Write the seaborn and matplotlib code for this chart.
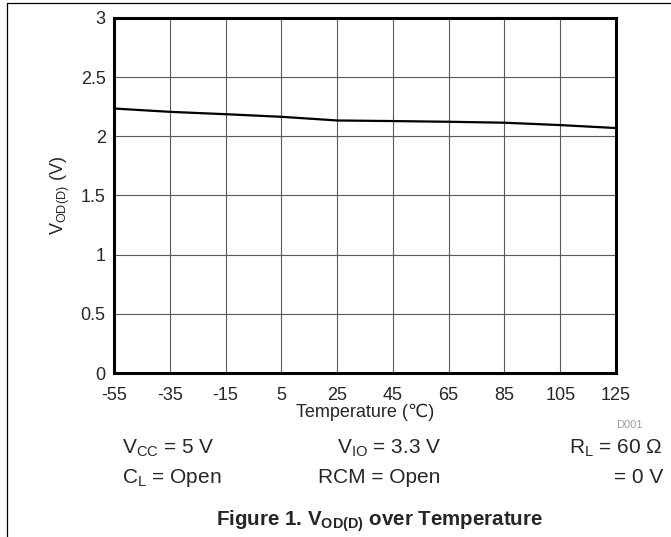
import matplotlib
matplotlib.use("Agg")
import matplotlib.pyplot as plt
from matplotlib.lines import Line2D
import pandas as pd
import seaborn as sns

# Data
temperature = [-55, -35, -15, 5, 25, 45, 65, 85, 105, 125]
vod = [2.235, 2.207, 2.187, 2.165, 2.134, 2.129, 2.123, 2.115, 2.095, 2.07]
x_ticks = [-55, -35, -15, 5, 25, 45, 65, 85, 105, 125]
y_ticks = [0, 0.5, 1, 1.5, 2, 2.5, 3]
y_tick_labels = ["0", "0.5", "1", "1.5", "2", "2.5", "3"]

df = pd.DataFrame({"Temperature": temperature, "VOD": vod})

sns.set_style("white")
plt.rcParams["font.family"] = ["Liberation Sans", "DejaVu Sans"]
plt.rcParams["mathtext.fontset"] = "custom"
plt.rcParams["mathtext.rm"] = "Liberation Sans"
plt.rcParams["mathtext.it"] = "Liberation Sans:italic"
plt.rcParams["mathtext.bf"] = "Liberation Sans:bold"

fig = plt.figure(figsize=(6.71, 5.37), dpi=100)
ax = fig.add_axes([0.1699, 0.3054, 0.918 - 0.1699, 0.9665 - 0.3054])

sns.lineplot(data=df, x="Temperature", y="VOD", ax=ax, color="black", linewidth=1.6)

ax.set_xlim(-55, 125)
ax.set_ylim(0, 3)
ax.set_xticks(x_ticks)
ax.set_xticklabels([str(t) for t in x_ticks])
ax.set_yticks(y_ticks)
ax.set_yticklabels(y_tick_labels)
ax.grid(True, color="#5a5a5a", linewidth=0.8)
ax.set_axisbelow(True)
ax.tick_params(axis="x", length=0, pad=10, labelsize=13)
ax.tick_params(axis="y", length=0, pad=6, labelsize=13)
for s in ax.spines.values():
    s.set_visible(True)
    s.set_color("black")
    s.set_linewidth(2.2)

ax.set_xlabel("Temperature (\u2103)", fontsize=13, labelpad=0)
ax.set_ylabel(r"$\mathregular{V_{OD(D)}}$ (V)", fontsize=13, labelpad=6)

# conditions under the chart
fig.text(0.958, 1 - 428 / 537, "D001", fontsize=8, color="#a0a0a0", ha="right", va="baseline")
fig.text(0.182, 1 - 454 / 537, r"$\mathregular{V_{CC}}$ = 5 V", fontsize=15, ha="left", va="baseline")
fig.text(0.502, 1 - 454 / 537, r"$\mathregular{V_{IO}}$ = 3.3 V", fontsize=15, ha="left", va="baseline")
fig.text(0.988, 1 - 454 / 537, r"$\mathregular{R_{L}}$ = 60 " + "\u03a9",
         fontsize=15, ha="right", va="baseline")
fig.text(0.182, 1 - 483 / 537, r"$\mathregular{C_{L}}$ = Open", fontsize=15, ha="left", va="baseline")
fig.text(0.474, 1 - 483 / 537, "RCM = Open", fontsize=15, ha="left", va="baseline")
fig.text(0.988, 1 - 483 / 537, "= 0 V", fontsize=15, ha="right", va="baseline")

fig.text(0.566, 1 - 526 / 537, r"Figure 1. $\mathbf{V_{OD(D)}}$ over Temperature",
         fontsize=14.8, fontweight="bold", ha="center", va="baseline")

# page frame lines
fig.add_artist(Line2D([0.0104, 1.0], [1 - 3 / 537, 1 - 3 / 537], color="black", linewidth=0.9))
fig.add_artist(Line2D([0.0104, 0.0104], [0, 1 - 3 / 537], color="black", linewidth=0.9))

fig.savefig("out.png", dpi=100)
